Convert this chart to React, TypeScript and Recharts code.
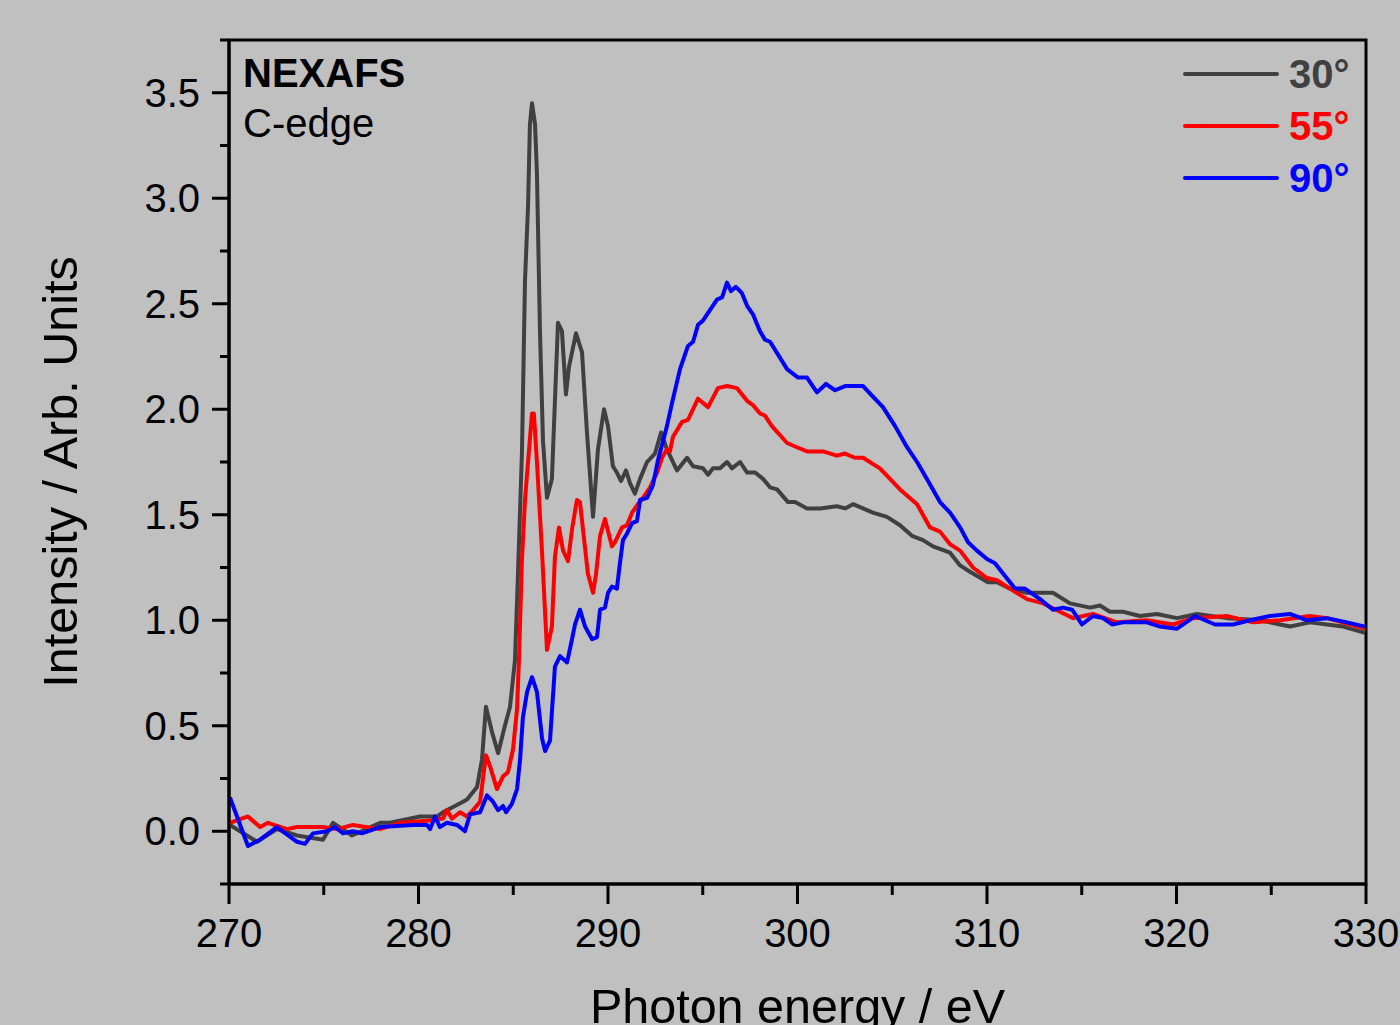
import React from 'react';
import { LineChart, Line, XAxis, YAxis, ReferenceArea } from 'recharts';

// ---- Data (photon energy in eV, intensity in arb. units) ----
const energy30 = [
  270.05, 271.48, 272.53, 273.59, 274.96, 275.49, 276.49, 277.97, 278.5, 280.08,
  280.98, 281.29, 282.35, 282.56, 283.09, 283.35, 283.56, 283.88, 284.2, 284.56,
  284.83, 285.09, 285.25, 285.46, 285.62, 285.78, 285.88, 285.99, 286.15, 286.25,
  286.41, 286.57, 286.78, 287.04, 287.2, 287.36, 287.57, 287.78, 287.94, 288.31,
  288.63, 288.89, 289.21, 289.47, 289.79, 290.0, 290.26, 290.47, 290.69, 290.95,
  291.16, 291.42, 291.69, 292.06, 292.48, 292.8, 293.11, 293.64, 294.17, 294.49,
  295.01, 295.28, 295.54, 295.91, 296.28, 296.54, 296.97, 297.34, 297.76, 298.18,
  298.55, 298.92, 299.5, 299.87, 300.5, 301.19, 302.08, 302.51, 302.93, 303.98,
  304.72, 305.41, 306.04, 306.62, 307.15, 308.05, 308.58, 309.1, 310.05, 310.53,
  311.21, 312.11, 313.48, 314.38, 315.44, 315.96, 316.49, 317.18, 318.07, 318.97,
  320.03, 321.08, 322.66, 324.41, 325.99, 327.04, 327.94, 328.79, 329.95,
];
const intensity30 = [
  0.03, -0.05, 0.01, -0.02, -0.04, 0.04, -0.02, 0.04, 0.04, 0.07,
  0.07, 0.09, 0.14, 0.15, 0.21, 0.34, 0.59, 0.47, 0.37, 0.5,
  0.59, 0.81, 1.22, 1.8, 2.61, 2.96, 3.35, 3.45, 3.35, 3.12,
  2.37, 1.85, 1.58, 1.67, 2.04, 2.41, 2.37, 2.07, 2.2, 2.36,
  2.27, 1.89, 1.49, 1.81, 2.0, 1.92, 1.73, 1.7, 1.66, 1.71,
  1.65, 1.6, 1.67, 1.75, 1.79, 1.89, 1.81, 1.71, 1.77, 1.73,
  1.72, 1.69, 1.72, 1.72, 1.75, 1.72, 1.75, 1.7, 1.7, 1.67,
  1.63, 1.62, 1.56, 1.56, 1.53, 1.53, 1.54, 1.53, 1.55, 1.51,
  1.49, 1.45, 1.4, 1.38, 1.35, 1.32, 1.26, 1.23, 1.18, 1.18,
  1.15, 1.13, 1.13, 1.08, 1.06, 1.07, 1.04, 1.04, 1.02, 1.03,
  1.01, 1.03, 1.01, 1.0, 0.97, 0.99, 0.98, 0.97, 0.94,
];

const energy55 = [
  270.05, 271.0, 271.64, 272.06, 273.06, 273.59, 274.96, 275.7, 276.54, 277.97,
  279.02, 280.45, 281.29, 281.5, 281.77, 282.19, 282.56, 282.88, 283.25, 283.56,
  283.77, 284.14, 284.46, 284.72, 284.99, 285.2, 285.3, 285.46, 285.62, 285.78,
  285.99, 286.09, 286.25, 286.52, 286.78, 287.04, 287.2, 287.41, 287.63, 287.89,
  288.1, 288.36, 288.52, 288.94, 289.21, 289.37, 289.58, 289.84, 290.21, 290.37,
  290.74, 291.0, 291.27, 291.58, 291.85, 292.22, 292.59, 292.85, 293.11, 293.27,
  293.43, 293.91, 294.22, 294.75, 295.28, 295.8, 296.28, 296.81, 297.34, 297.65,
  298.02, 298.28, 298.65, 299.45, 299.97, 300.5, 301.35, 302.08, 302.51, 303.03,
  303.46, 304.35, 305.41, 306.31, 306.99, 307.52, 308.05, 308.58, 309.26, 310.0,
  310.53, 311.21, 312.11, 312.96, 313.85, 314.54, 315.59, 316.86, 318.44, 319.82,
  320.87, 322.66, 324.04, 325.46, 327.04, 327.94, 329.95,
];
const intensity55 = [
  0.04, 0.07, 0.02, 0.04, 0.01, 0.02, 0.02, 0.01, 0.03, 0.01,
  0.04, 0.05, 0.06, 0.1, 0.06, 0.09, 0.07, 0.1, 0.14, 0.36,
  0.31, 0.2, 0.26, 0.28, 0.39, 0.58, 0.81, 1.29, 1.57, 1.75,
  1.98, 1.98, 1.75, 1.32, 0.86, 0.97, 1.3, 1.44, 1.33, 1.28,
  1.43, 1.57, 1.56, 1.22, 1.13, 1.22, 1.4, 1.48, 1.35, 1.37,
  1.44, 1.45, 1.51, 1.55, 1.58, 1.63, 1.7, 1.77, 1.81, 1.8,
  1.87, 1.94, 1.95, 2.05, 2.01, 2.1, 2.11, 2.1, 2.04, 2.02,
  1.98, 1.97, 1.92, 1.84, 1.82, 1.8, 1.8, 1.78, 1.79, 1.77,
  1.77, 1.72, 1.62, 1.55, 1.44, 1.42, 1.36, 1.33, 1.25, 1.2,
  1.19, 1.15, 1.1, 1.08, 1.04, 1.01, 1.03, 0.99, 1.0, 0.98,
  1.01, 1.02, 0.99, 1.0, 1.02, 1.01, 0.96,
];

const energy90 = [
  270.05, 271.0, 271.64, 272.53, 273.59, 274.01, 274.43, 275.17, 275.59, 276.02,
  276.54, 277.02, 277.97, 279.71, 280.45, 280.61, 280.87, 281.13, 281.5, 282.03,
  282.45, 282.72, 283.25, 283.61, 283.93, 284.2, 284.46, 284.62, 284.93, 285.2,
  285.36, 285.51, 285.73, 285.99, 286.25, 286.52, 286.68, 286.94, 287.2, 287.47,
  287.84, 288.1, 288.26, 288.52, 288.79, 289.16, 289.42, 289.58, 289.84, 290.0,
  290.21, 290.47, 290.63, 290.79, 291.0, 291.27, 291.53, 291.69, 292.06, 292.37,
  292.64, 293.11, 293.38, 293.8, 294.22, 294.49, 294.75, 295.01, 295.75, 296.02,
  296.28, 296.49, 296.75, 297.07, 297.34, 297.65, 298.02, 298.28, 298.55, 299.45,
  300.03, 300.5, 301.03, 301.5, 301.98, 302.51, 303.46, 303.98, 304.51, 305.15,
  305.78, 306.31, 306.89, 307.52, 308.05, 308.58, 309.0, 309.47, 310.0, 310.42,
  310.95, 311.48, 312.0, 312.8, 313.48, 314.01, 314.49, 315.01, 315.59, 316.12,
  316.6, 317.18, 318.44, 319.13, 320.03, 320.98, 322.03, 322.98, 323.88, 324.93,
  325.99, 326.89, 327.94, 329.0, 329.95,
];
const intensity90 = [
  0.16, -0.07, -0.04, 0.02, -0.05, -0.06, -0.01, 0.0, 0.02, -0.01,
  0.0, -0.01, 0.02, 0.03, 0.03, 0.01, 0.07, 0.02, 0.04, 0.03,
  0.0, 0.08, 0.09, 0.17, 0.14, 0.1, 0.12, 0.09, 0.13, 0.2,
  0.34, 0.54, 0.66, 0.73, 0.66, 0.44, 0.38, 0.43, 0.78, 0.83,
  0.8, 0.91, 0.98, 1.05, 0.97, 0.91, 0.92, 1.05, 1.06, 1.13,
  1.16, 1.15, 1.27, 1.38, 1.41, 1.46, 1.47, 1.57, 1.58, 1.64,
  1.76, 1.92, 2.03, 2.19, 2.3, 2.32, 2.4, 2.42, 2.52, 2.53,
  2.6, 2.56, 2.58, 2.55, 2.49, 2.45, 2.37, 2.33, 2.32, 2.19,
  2.15, 2.15, 2.08, 2.12, 2.09, 2.11, 2.11, 2.06, 2.01, 1.92,
  1.82, 1.75, 1.66, 1.56, 1.51, 1.44, 1.37, 1.33, 1.29, 1.27,
  1.21, 1.15, 1.15, 1.1, 1.05, 1.06, 1.05, 0.98, 1.02, 1.01,
  0.98, 0.99, 0.99, 0.97, 0.96, 1.02, 0.98, 0.98, 1.0, 1.02,
  1.03, 1.0, 1.01, 0.99, 0.97,
];

const seriesNames = ['30°', '55°', '90°'];
const seriesColors = ['#404040', '#ff0000', '#0000ff'];

const xTicks = [270, 275, 280, 285, 290, 295, 300, 305, 310, 315, 320, 325, 330];
const yTicks = [-0.25, 0, 0.25, 0.5, 0.75, 1, 1.25, 1.5, 1.75, 2, 2.25, 2.5, 2.75, 3, 3.25, 3.5, 3.75];

const build = (e: number[], v: number[]) => e.map((x, i) => ({ e: x, v: v[i] }));
const data30 = build(energy30, intensity30);
const data55 = build(energy55, intensity55);
const data90 = build(energy90, intensity90);

const FONT = '"Liberation Sans", Arial, Helvetica, sans-serif';

const X_MAJOR = 20;
const X_MINOR = 11;
const X_MARGIN = 15;
const Y_MAJOR = 17;
const Y_MINOR = 9;
const Y_MARGIN = 12;
const LINE_W = 4;

function XTick(props: any) {
  const { x, y, payload } = props;
  const v = payload.value;
  const major = Math.abs(v % 10) < 1e-6;
  const axisY = y - X_MAJOR - X_MARGIN;
  return (
    <g>
      <line x1={x} x2={x} y1={axisY} y2={axisY + (major ? X_MAJOR : X_MINOR)} stroke="#000" strokeWidth={3} />
      {major && (
        <text x={x} y={y} dy="0.71em" textAnchor="middle" fontFamily={FONT} fontSize={40} fill="#000">
          {v}
        </text>
      )}
    </g>
  );
}

function YTick(props: any) {
  const { x, y, payload } = props;
  const v = payload.value;
  const major = Math.abs((v * 2) % 1) < 1e-6 && v >= 0 && v <= 3.5;
  const axisX = x + Y_MAJOR + Y_MARGIN;
  return (
    <g>
      <line x1={axisX} x2={axisX - (major ? Y_MAJOR : Y_MINOR)} y1={y} y2={y} stroke="#000" strokeWidth={3} />
      {major && (
        <text x={x} y={y} dy="0.355em" textAnchor="end" fontFamily={FONT} fontSize={40} fill="#000">
          {v.toFixed(1)}
        </text>
      )}
    </g>
  );
}

const renderXTitle = (props: any) => {
  const vb = props.viewBox;
  return (
    <text x={vb.x + vb.width / 2} y={vb.y + 139} textAnchor="middle" fontFamily={FONT} fontSize={48.5} fill="#000">
      Photon energy / eV
    </text>
  );
};

const renderYTitle = (props: any) => {
  const vb = props.viewBox;
  const cx = vb.x + vb.width - 152;
  const cy = vb.y + vb.height / 2 + 10;
  return (
    <text x={cx} y={cy} transform={`rotate(-90, ${cx}, ${cy})`} textAnchor="middle" fontFamily={FONT} fontSize={48.5} fill="#000">
      Intensity / Arb. Units
    </text>
  );
};

export default function App() {
  return (
    <div style={{ position: 'absolute', left: 0, top: 0, width: 1400, height: 1025, background: '#c0c0c0', overflow: 'hidden' }}>
      <LineChart width={1400} height={1025} margin={{ top: 40, right: 34, bottom: 140, left: 228 }}>
        <ReferenceArea x1={270} x2={330} y1={-0.25} y2={3.75} fill="none" stroke="#000" strokeWidth={3} />
        <XAxis
          dataKey="e"
          type="number"
          domain={[270, 330]}
          ticks={xTicks}
          height={1}
          tickLine={false}
          tickSize={X_MAJOR}
          tickMargin={X_MARGIN}
          tick={<XTick />}
          axisLine={{ stroke: '#000', strokeWidth: 3 }}
          allowDataOverflow
          interval={0}
          label={renderXTitle}
        />
        <YAxis
          type="number"
          domain={[-0.25, 3.75]}
          ticks={yTicks}
          width={1}
          tickLine={false}
          tickSize={Y_MAJOR}
          tickMargin={Y_MARGIN}
          tick={<YTick />}
          axisLine={{ stroke: '#000', strokeWidth: 3 }}
          allowDataOverflow
          interval={0}
          label={renderYTitle}
        />
        <Line data={data30} dataKey="v" name={seriesNames[0]} type="linear" stroke={seriesColors[0]} strokeWidth={LINE_W} strokeLinejoin="round" dot={false} isAnimationActive={false} />
        <Line data={data55} dataKey="v" name={seriesNames[1]} type="linear" stroke={seriesColors[1]} strokeWidth={LINE_W} strokeLinejoin="round" dot={false} isAnimationActive={false} />
        <Line data={data90} dataKey="v" name={seriesNames[2]} type="linear" stroke={seriesColors[2]} strokeWidth={LINE_W} strokeLinejoin="round" dot={false} isAnimationActive={false} />
      </LineChart>
      <div style={{ position: 'absolute', left: 1183, top: 48, fontFamily: FONT }}>
        {seriesNames.map((n, i) => (
          <div key={n} style={{ display: 'flex', alignItems: 'center', height: 52 }}>
            <div style={{ width: 96, height: 4, background: seriesColors[i], borderRadius: 2 }} />
            <span style={{ marginLeft: 10, fontSize: 40, fontWeight: 'bold', color: seriesColors[i], lineHeight: '52px' }}>{n}</span>
          </div>
        ))}
      </div>
      <svg width={1400} height={1025} style={{ position: 'absolute', left: 0, top: 0, pointerEvents: 'none' }}>
        <text x={243} y={87} fontFamily={FONT} fontSize={40} fontWeight="bold" fill="#000">NEXAFS</text>
        <text x={243} y={137} fontFamily={FONT} fontSize={40} fill="#000">C-edge</text>
      </svg>
    </div>
  );
}
